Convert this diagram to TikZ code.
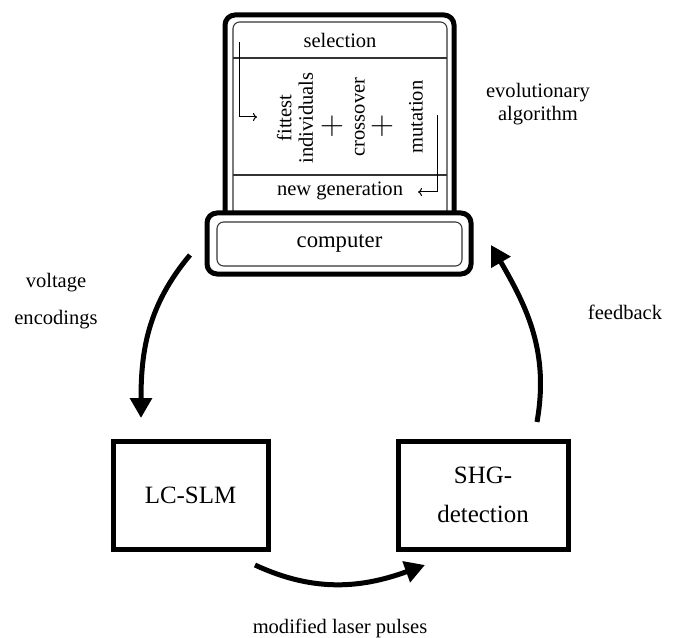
\documentclass[tikz,border=0pt]{standalone}
\usepackage{fontspec}
\setmainfont{Liberation Serif}
\usetikzlibrary{arrows.meta,calc}
\tikzset{
  heavy/.style={line width=3.75pt},
  thinline/.style={line width=0.8pt, draw=black!80},
  pcframe/.style={draw, heavy, rectangle, rounded corners=7.5pt, outer sep=0pt},
  devbox/.style={draw, heavy, rectangle, align=center, outer sep=0pt, minimum height=81pt, font=\fontsize{18.7}{29}\selectfont},
  plussign/.style={font=\fontsize{23}{24}\selectfont},
  bigarrow/.style={heavy, -{Triangle[length=15pt,width=16pt]}},
  smallarrow/.style={line width=0.75pt, -{To[length=3pt,width=6pt]}}
}
\begin{document}
\begin{tikzpicture}[x=0.75pt, y=0.75pt, font=\fontsize{15.4}{18}\selectfont]
\useasboundingbox (0,0) rectangle (675,-638);
\node[pcframe, minimum width=171.75pt, minimum height=165pt] (monitor) at (339.5,-125) {};
\draw[thinline, rounded corners=5pt] ($(monitor.south west)+(8,0)$) rectangle ($(monitor.north east)+(-7,-7)$);
\draw[thinline] ($(monitor.north west)+(8,-43)$) -- ($(monitor.north east)+(-7,-43)$);
\draw[thinline] ($(monitor.north west)+(8,-160)$) -- ($(monitor.north east)+(-7,-160)$);
\node (sel) at (340,-40) {selection};
\node (newgen) at (340,-191) {new generation};
\node[rotate=90, align=center, font=\fontsize{15.4}{16}\selectfont] (fittest) at (295,-118) {fittest\\individuals};
\node[plussign] (plusa) at (332,-126) {$+$};
\node[rotate=90] (cross) at (360,-117) {crossover};
\node[plussign] (plusb) at (382,-126) {$+$};
\node[rotate=90] (mut) at (416,-117) {mutation};
\draw[smallarrow] ($(monitor.north west)+(14,-27)$) |- ($(monitor.north west)+(32,-102)$);
\draw[smallarrow] ($(monitor.north east)+(-17,-100)$) |- ($(monitor.north east)+(-36,-177)$);
\node[pcframe, fill=white, minimum width=198pt, minimum height=45.75pt] (computer) at (339,-243.5) {};
\node[draw, thinline, rounded corners=5pt, minimum width=183.75pt, minimum height=33pt, font=\fontsize{17}{20}\selectfont] (pctext) at (339.5,-244) {computer};
\node[devbox, minimum width=116.25pt] (slm) at (190.5,-495) {LC-SLM};
\node[devbox, minimum width=127.5pt] (shg) at (483,-495) {SHG-\\detection};
\draw[bigarrow] ($(computer.south west)+(-17,19)$) to[out=230, in=90] ($(slm.north west)+(28,23)$);
\draw[bigarrow] ($(shg.north east)+(-31,19)$) to[out=80, in=-60] ($(computer.south east)+(20,29)$);
\draw[bigarrow] ($(slm.south east)+(-13,-16)$) to[out=-25, in=200] ($(shg.south west)+(27,-16)$);
\node[align=center, font=\fontsize{15.4}{28}\selectfont] (volt) at (56,-301) {voltage\\encodings};
\node[align=center, font=\fontsize{15.4}{17}\selectfont] (evo) at (538,-104) {evolutionary\\algorithm};
\node (fb) at (625,-312) {feedback};
\node (mlp) at (340,-628) {modified laser pulses};
\end{tikzpicture}
\end{document}
